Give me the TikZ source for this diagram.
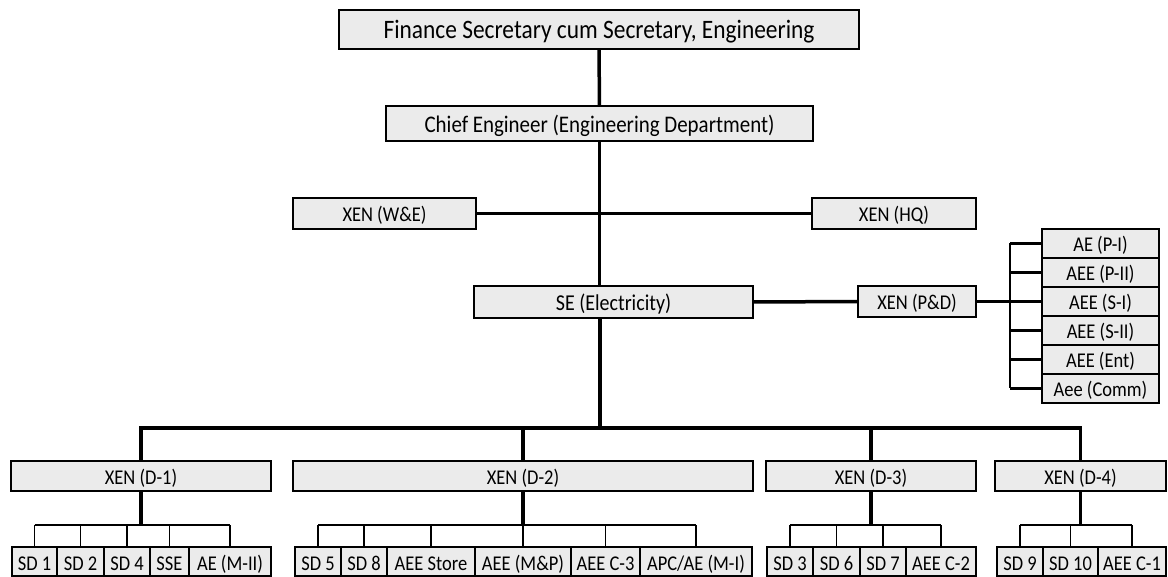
\documentclass[tikz,border=0pt]{standalone}
\usepackage{fontspec}
\setmainfont{Carlito}[FakeStretch=0.88]
\usetikzlibrary{positioning}
\definecolor{boxgray}{RGB}{235,235,235}

\begin{document}
\begin{tikzpicture}[x=1pt,y=-1pt,
	post/.style={draw,line width=2.5pt,fill=boxgray,inner sep=2pt,outer sep=0pt,
		minimum height=31pt,text height=19pt,text depth=2pt,
		font=\fontsize{21}{23}\selectfont},
	unit/.style={draw,line width=1.2pt,fill=boxgray,inner sep=1pt,outer sep=0pt,
		minimum height=29pt,text height=19pt,text depth=2pt,
		font=\fontsize{21}{23}\selectfont},
	link/.style={line width=3.5pt},
	feed/.style={line width=2.5pt},
	tick/.style={line width=1.5pt}
	]
	\useasboundingbox (0,0) rectangle (1168,577);

	\node[post,minimum width=520pt,minimum height=39pt,text height=21pt,text depth=2pt,font=\fontsize{26.6}{29}\selectfont] (fs) at (599,29.5) {Finance Secretary cum Secretary, Engineering};
	\node[post,minimum width=427pt,minimum height=35pt,text height=21pt,text depth=2pt,font=\fontsize{23.8}{27}\selectfont] (ce) at (599.5,123.5) {Chief Engineer (Engineering Department)};
	\node[post,minimum width=183pt] (we) at (384.5,213.5) {XEN (W\&E)};
	\node[post,minimum width=164pt] (hq) at (894,213.5) {XEN (HQ)};
	\node[post,minimum width=279pt,minimum height=32pt,text height=20pt,text depth=2pt,font=\fontsize{22.7}{25}\selectfont] (se) at (613.5,302) {SE (Electricity)};
	\node[post,minimum width=118pt] (pd) at (917,301.5) {XEN (P\&D)};

	% P&D sections
	\node[unit,minimum width=117pt] (pi) at (1100.5,243.5) {AE (P-I)};
	\node[unit,minimum width=117pt,below=0pt of pi] (pii) {AEE (P-II)};
	\node[unit,minimum width=117pt,below=0pt of pii] (si) {AEE (S-I)};
	\node[unit,minimum width=117pt,below=0pt of si] (sii) {AEE (S-II)};
	\node[unit,minimum width=117pt,below=0pt of sii] (ent) {AEE (Ent)};
	\node[unit,minimum width=117pt,below=0pt of ent] (comm) {Aee (Comm)};

	% divisions
	\node[post,minimum width=260pt,minimum height=30pt] (d1) at (141,476) {XEN (D-1)};
	\node[post,minimum width=460pt,minimum height=30pt] (d2) at (523,476) {XEN (D-2)};
	\node[post,minimum width=210pt,minimum height=30pt] (d3) at (871,476) {XEN (D-3)};
	\node[post,minimum width=171pt,minimum height=30pt] (d4) at (1080.5,476) {XEN (D-4)};

	% sub divisions
	\node[unit,minimum width=45pt] (sd1) at (34.5,561.5) {SD 1};
	\node[unit,minimum width=47pt,right=0pt of sd1] (sd2) {SD 2};
	\node[unit,minimum width=46pt,right=0pt of sd2] (sd4) {SD 4};
	\node[unit,minimum width=39pt,right=0pt of sd4] (sse) {SSE};
	\node[unit,minimum width=82pt,right=0pt of sse] (aem2) {AE (M-II)};

	\node[unit,minimum width=46pt] (sd5) at (318,561.5) {SD 5};
	\node[unit,minimum width=46pt,right=0pt of sd5] (sd8) {SD 8};
	\node[unit,minimum width=88pt,right=0pt of sd8] (store) {AEE Store};
	\node[unit,minimum width=96pt,right=0pt of store] (mp) {AEE (M\&P)};
	\node[unit,minimum width=69pt,right=0pt of mp] (c3) {AEE C-3};
	\node[unit,minimum width=112pt,right=0pt of c3] (apc) {APC/AE (M-I)};

	\node[unit,minimum width=46pt] (sd3) at (790,561.5) {SD 3};
	\node[unit,minimum width=47pt,right=0pt of sd3] (sd6) {SD 6};
	\node[unit,minimum width=46pt,right=0pt of sd6] (sd7) {SD 7};
	\node[unit,minimum width=70pt,right=0pt of sd7] (c2) {AEE C-2};

	\node[unit,minimum width=46pt] (sd9) at (1020,561.5) {SD 9};
	\node[unit,minimum width=55pt,right=0pt of sd9] (sd10) {SD 10};
	\node[unit,minimum width=68pt,right=0pt of sd10] (c1) {AEE C-1};

	\coordinate (brk) at (1010,0);
	\coordinate (split) at (600,428);
	\coordinate (sub) at (0,525);

	\draw[link] (fs.south) -- (ce.north);
	\draw[link] (ce.south) -- (ce.south |- se.north);
	\draw[link] (we.east) -- (hq.west);
	\draw[link] (se.east) -- (pd.west);

	\draw[link] (pd.east) -- (pd.east -| brk);
	\draw[feed] (pi.west -| brk) -- (comm.west -| brk);
	\foreach \n in {pi,pii,si,sii,ent,comm}
		\draw[feed] (\n.west -| brk) -- (\n.west);

	\draw[link] (se.south -| split) -- (split);
	\draw[link] (d1.north) |- (d4.north |- split) -- (d4.north);
	\draw[link] (d2.north |- split) -- (d2.north);
	\draw[link] (d3.north |- split) -- (d3.north);

	\foreach \d/\a/\b in {d1/sd1/aem2,d2/sd5/apc,d3/sd3/c2,d4/sd9/c1}{
		\draw[link] (\d.south) -- (\d.south |- sub);
		\draw[feed] (\a.north |- sub) -- (\b.north |- sub);
	}
	\foreach \n in {sd1,sd2,sd4,sse,aem2,sd5,sd8,store,mp,c3,apc,sd3,sd6,sd7,c2,sd9,sd10,c1}
		\draw[tick] (\n.north |- sub) -- (\n.north);

\end{tikzpicture}
\end{document}
